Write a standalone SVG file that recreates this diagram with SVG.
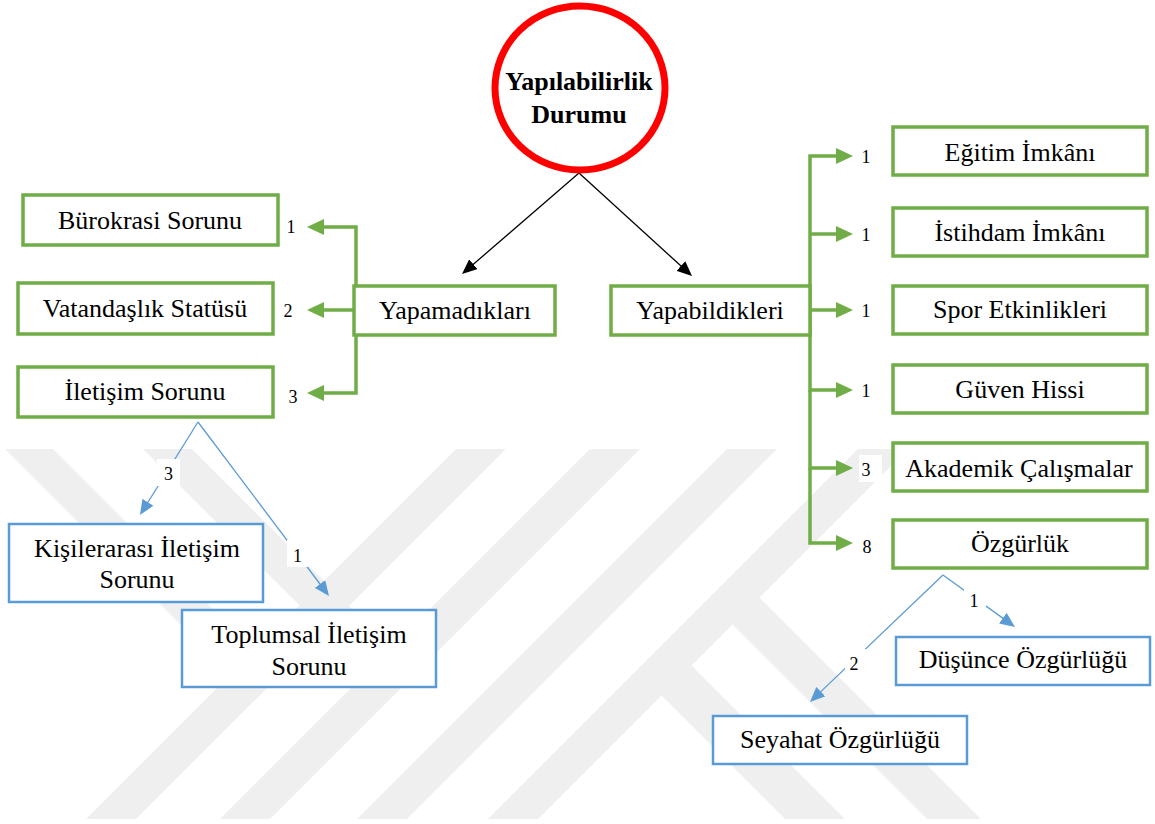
<svg xmlns="http://www.w3.org/2000/svg" width="1155" height="824" viewBox="0 0 1155 824" font-family="'Liberation Serif', 'Times New Roman', Times, 'DejaVu Serif', serif">
<style>
.g{fill:#fff;stroke:#70ad47;stroke-width:3.5}
.b{fill:#fff;stroke:#5b9bd5;stroke-width:2.5}
.t{font-family:'Liberation Serif','Times New Roman',Times,'DejaVu Serif',serif;font-size:26px;fill:#000;text-anchor:middle}
.tb{font-family:'Liberation Serif','Times New Roman',Times,'DejaVu Serif',serif;font-size:26px;font-weight:bold;fill:#000;text-anchor:middle}
.n{font-family:'Liberation Serif','Times New Roman',Times,'DejaVu Serif',serif;font-size:18px;fill:#000;text-anchor:middle}
.gl{fill:none;stroke:#70ad47;stroke-width:3.5}
.bl{fill:none;stroke:#5b9bd5;stroke-width:1.3}
.kl{fill:none;stroke:#000;stroke-width:1.3}
.wm{fill:#efefef}
.lb{fill:#fff}
</style>
<defs>
<marker id="ag" markerUnits="userSpaceOnUse" markerWidth="17" markerHeight="16" refX="7" refY="8" orient="auto"><path d="M0,0 L17,8 L0,16 z" fill="#70ad47"/></marker>
<marker id="ak" markerUnits="userSpaceOnUse" markerWidth="15" markerHeight="13" refX="5" refY="6.5" orient="auto"><path d="M0,0 L15,6.5 L0,13 z" fill="#000"/></marker>
<marker id="ab" markerUnits="userSpaceOnUse" markerWidth="15" markerHeight="13" refX="5" refY="6.5" orient="auto"><path d="M0,0 L15,6.5 L0,13 z" fill="#5b9bd5"/></marker>
</defs>
<rect width="1155" height="824" fill="#fff"/>
<g id="watermark">
<polygon class="wm" points="86,819 136,819 506,449 456,449"/>
<polygon class="wm" points="220,819 270,819 640,449 590,449"/>
<polygon class="wm" points="357,819 407,819 777,449 727,449"/>
<polygon class="wm" points="488,819 538,819 908,449 858,449"/>
<polygon class="wm" points="5,449 53,449 279.5,675.5 255.5,699.5"/>
<polygon class="wm" points="143,449 192,449 416,673 391.5,697.5"/>
<polygon class="wm" points="759.5,597.5 981,819 927,819 732.5,624.5"/>
<polygon class="wm" points="691.5,665.5 845,819 785,819 661.5,695.5"/>
</g>
<g id="connectors">
<line class="kl" x1="579" y1="173" x2="469.6" y2="267.5" marker-end="url(#ak)"/>
<line class="kl" x1="579" y1="173" x2="684.6" y2="269.3" marker-end="url(#ak)"/>
<path class="gl" d="M356,310 V227 H317" marker-end="url(#ag)"/>
<path class="gl" d="M356,310 H317" marker-end="url(#ag)"/>
<path class="gl" d="M356,310 V393 H317" marker-end="url(#ag)"/>
<path class="gl" d="M810,310 V156 H843" marker-end="url(#ag)"/>
<path class="gl" d="M810,234 H843" marker-end="url(#ag)"/>
<path class="gl" d="M810,310 H843" marker-end="url(#ag)"/>
<path class="gl" d="M810,310 V390 H843" marker-end="url(#ag)"/>
<path class="gl" d="M810,390 V468 H843" marker-end="url(#ag)"/>
<path class="gl" d="M810,468 V543 H843" marker-end="url(#ag)"/>
<line class="bl" x1="198" y1="422" x2="145.3" y2="506.5" marker-end="url(#ab)"/>
<line class="bl" x1="198" y1="422" x2="323" y2="588" marker-end="url(#ab)"/>
<line class="bl" x1="943" y1="575" x2="1006.9" y2="621.1" marker-end="url(#ab)"/>
<line class="bl" x1="943" y1="575" x2="817.2" y2="695.1" marker-end="url(#ab)"/>
<g id="edge-labels">
<text class="n" x="291" y="233">1</text>
<text class="n" x="288" y="317">2</text>
<text class="n" x="293" y="403">3</text>
<text class="n" x="866" y="163">1</text>
<text class="n" x="866" y="241">1</text>
<text class="n" x="866" y="317">1</text>
<text class="n" x="866" y="397">1</text>
<rect class="lb" x="859" y="455" width="23" height="27"/>
<text class="n" x="866" y="476">3</text>
<text class="n" x="867" y="553">8</text>
<rect class="lb" x="157" y="459" width="23" height="27"/>
<text class="n" x="168.5" y="480">3</text>
<rect class="lb" x="287" y="540" width="21" height="27"/>
<text class="n" x="297.5" y="562">1</text>
<rect class="lb" x="964" y="589" width="22" height="24"/>
<text class="n" x="974" y="607">1</text>
<rect class="lb" x="845" y="649" width="21" height="21"/>
<text class="n" x="854" y="670">2</text>
</g>
</g>
<g id="root">
<ellipse cx="580" cy="88" rx="85" ry="82" fill="#fff" stroke="#ff0000" stroke-width="7"/>
<text class="tb" x="579" y="90">Yapılabilirlik</text>
<text class="tb" x="579" y="123">Durumu</text>
</g>
<g id="yapamadiklari"><rect class="g" x="354" y="286" width="201" height="49"/><text class="t" x="455" y="319">Yapamadıkları</text></g>
<g id="yapabildikleri"><rect class="g" x="611" y="286" width="199" height="49"/><text class="t" x="710" y="319">Yapabildikleri</text></g>
<g id="burokrasi"><rect class="g" x="23" y="195" width="255" height="50"/><text class="t" x="150" y="229">Bürokrasi Sorunu</text></g>
<g id="vatandaslik"><rect class="g" x="18" y="283" width="255" height="51"/><text class="t" x="145" y="317">Vatandaşlık Statüsü</text></g>
<g id="iletisim"><rect class="g" x="18" y="367" width="255" height="50"/><text class="t" x="145" y="400">İletişim Sorunu</text></g>
<g id="egitim"><rect class="g" x="893" y="127" width="254" height="48"/><text class="t" x="1020" y="161">Eğitim İmkânı</text></g>
<g id="istihdam"><rect class="g" x="893" y="208" width="254" height="48"/><text class="t" x="1020" y="241">İstihdam İmkânı</text></g>
<g id="spor"><rect class="g" x="893" y="286" width="254" height="48"/><text class="t" x="1020" y="318">Spor Etkinlikleri</text></g>
<g id="guven"><rect class="g" x="893" y="365" width="254" height="48"/><text class="t" x="1020" y="398">Güven Hissi</text></g>
<g id="akademik"><rect class="g" x="893" y="443" width="254" height="48"/><text class="t" x="1019" y="477">Akademik Çalışmalar</text></g>
<g id="ozgurluk"><rect class="g" x="893" y="520" width="254" height="48"/><text class="t" x="1020" y="552">Özgürlük</text></g>
<g id="kisilerarasi"><rect class="b" x="9" y="524" width="254" height="78"/><text class="t" x="137" y="557">Kişilerarası İletişim</text><text class="t" x="137" y="588">Sorunu</text></g>
<g id="toplumsal"><rect class="b" x="182" y="610" width="254" height="77"/><text class="t" x="309" y="643">Toplumsal İletişim</text><text class="t" x="309" y="675">Sorunu</text></g>
<g id="dusunce"><rect class="b" x="896" y="637" width="254" height="48"/><text class="t" x="1023" y="668">Düşünce Özgürlüğü</text></g>
<g id="seyahat"><rect class="b" x="713" y="716" width="254" height="48"/><text class="t" x="840" y="748">Seyahat Özgürlüğü</text></g>
</svg>
